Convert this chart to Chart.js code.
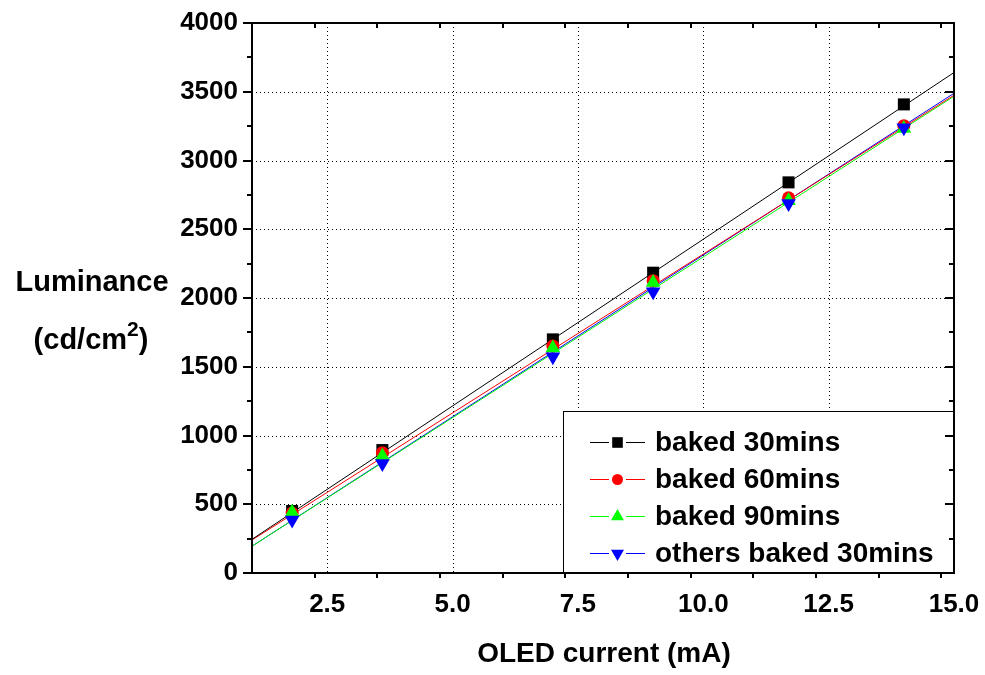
<!DOCTYPE html>
<html>
<head>
<meta charset="utf-8">
<script src="https://cdn.jsdelivr.net/npm/chart.js@4.4.0/dist/chart.umd.min.js"></script>
<style>
  html, body { margin: 0; padding: 0; background: #fff; }
</style>
</head>
<body>
<canvas id="grafica" width="985" height="675"></canvas>
<script>
// measured points: OLED current (mA)
const corriente = [1.8, 3.6, 7.0, 9.0, 11.7, 14.0];

// luminance of each sample
const baked30 = [451, 894, 1699, 2184, 2841, 3408];
const baked60 = [436, 875, 1651, 2126, 2729, 3253];
const baked90 = [442, 851, 1636, 2112, 2707, 3232];
const others30 = [385, 797, 1573, 2046, 2688, 3238];

// linear fits, read at both ends of the axis
const ajusteX = [1, 15];
const ajuste30 = [245, 3640];
const ajuste60 = [240, 3475];
const ajuste90 = [195, 3467];
const ajusteOthers = [195, 3489];

const nombres = ["baked 30mins", "baked 60mins", "baked 90mins", "others baked 30mins"];

// tick labels
const xTicks = [2.5, 5.0, 7.5, 10.0, 12.5, 15.0];
const yTicks = [0, 500, 1000, 1500, 2000, 2500, 3000, 3500, 4000];

const FONT = "'Liberation Sans', Arial, sans-serif";
const colores = ["#000000", "#ff0000", "#00ff00", "#0000ff"];
const estilos = [
  { pointStyle: "rect", rotation: 0, radius: 8.5 },
  { pointStyle: "circle", rotation: 0, radius: 6.5 },
  { pointStyle: "triangle", rotation: 0, radius: 8.5 },
  { pointStyle: "triangle", rotation: 180, radius: 8.5 }
];

function puntos(xs, ys) {
  return xs.map((x, i) => ({ x: x, y: ys[i] }));
}

const series = [baked30, baked60, baked90, others30];
const ajustes = [ajuste30, ajuste60, ajuste90, ajusteOthers];

const datasets = [];
// fit lines go under the markers
ajustes.forEach((a, i) => {
  datasets.push({
    label: nombres[i] + " fit",
    data: puntos(ajusteX, a),
    showLine: true,
    borderColor: colores[i],
    borderWidth: 1,
    pointRadius: 0,
    order: 10 + i
  });
});
// markers, blue on top
series.forEach((s, i) => {
  datasets.push({
    label: nombres[i],
    data: puntos(corriente, s),
    showLine: false,
    backgroundColor: colores[i],
    borderWidth: 0,
    pointStyle: estilos[i].pointStyle,
    rotation: estilos[i].rotation,
    pointRadius: estilos[i].radius,
    order: 4 - i
  });
});

function marcador(ctx, i, x, y) {
  ctx.fillStyle = colores[i];
  const opts = { pointStyle: estilos[i].pointStyle, rotation: estilos[i].rotation, radius: estilos[i].radius - 1, borderWidth: 0 };
  if (Chart.helpers && Chart.helpers.drawPoint) {
    Chart.helpers.drawPoint(ctx, opts, x, y);
  } else {
    ctx.beginPath();
    ctx.arc(x, y, opts.radius, 0, Math.PI * 2);
    ctx.fill();
  }
}

// grid, frame, ticks, legend and titles
const marcoPlugin = {
  id: "marco",
  beforeDatasetsDraw(chart) {
    const { ctx, chartArea: a, scales: { x, y } } = chart;
    ctx.save();
    ctx.strokeStyle = "#000";
    ctx.lineWidth = 1;
    ctx.setLineDash([1, 3]);
    ctx.beginPath();
    xTicks.forEach(v => {
      if (v > x.min && v < x.max) {
        const px = Math.round(x.getPixelForValue(v)) + 0.5;
        ctx.moveTo(px, a.top);
        ctx.lineTo(px, a.bottom);
      }
    });
    yTicks.forEach(v => {
      if (v > y.min && v < y.max) {
        const py = Math.round(y.getPixelForValue(v)) + 0.5;
        ctx.moveTo(a.left, py);
        ctx.lineTo(a.right, py);
      }
    });
    ctx.stroke();
    ctx.restore();
  },
  afterDatasetsDraw(chart) {
    const { ctx, chartArea: a, scales: { x, y } } = chart;
    ctx.save();

    // legend box
    const bx = 563, by = 411;
    ctx.fillStyle = "#fff";
    ctx.fillRect(bx, by, a.right - bx, a.bottom - by);
    ctx.strokeStyle = "#000";
    ctx.lineWidth = 1;
    ctx.strokeRect(bx + 0.5, by + 0.5, a.right - bx, a.bottom - by);
    nombres.forEach((n, i) => {
      const cy = 442 + i * 37;
      ctx.strokeStyle = colores[i];
      ctx.lineWidth = 1;
      ctx.beginPath();
      ctx.moveTo(590, cy + 0.5); ctx.lineTo(609, cy + 0.5);
      ctx.moveTo(626, cy + 0.5); ctx.lineTo(645, cy + 0.5);
      ctx.stroke();
      marcador(ctx, i, 617.5, cy + 0.5);
      ctx.fillStyle = "#000";
      ctx.font = "bold 28px " + FONT;
      ctx.textAlign = "left";
      ctx.textBaseline = "middle";
      ctx.fillText(n, 655, cy + 1);
    });

    // frame
    ctx.strokeStyle = "#000";
    ctx.lineWidth = 2;
    ctx.strokeRect(a.left, a.top, a.right - a.left, a.bottom - a.top);

    // ticks: major every label, minor halfway
    ctx.lineWidth = 2;
    ctx.beginPath();
    for (let v = x.min; v <= x.max + 1e-9; v += 1.25) {
      const px = Math.round(x.getPixelForValue(v));
      const mayor = xTicks.some(t => Math.abs(t - v) < 1e-6);
      const l = mayor ? 10 : 5;
      if (v > x.min + 1e-6) {
        ctx.moveTo(px, a.bottom); ctx.lineTo(px, a.bottom + l);
        ctx.moveTo(px, a.top); ctx.lineTo(px, a.top + l);
      }
    }
    for (let v = y.min; v <= y.max + 1e-9; v += 250) {
      const py = Math.round(y.getPixelForValue(v));
      const mayor = yTicks.some(t => Math.abs(t - v) < 1e-6);
      const l = mayor ? 9 : 5;
      ctx.moveTo(a.left, py); ctx.lineTo(a.left - l, py);
      ctx.moveTo(a.right, py); ctx.lineTo(a.right - l, py);
    }
    ctx.stroke();
    ctx.restore();
  },
  afterDraw(chart) {
    const ctx = chart.ctx;
    ctx.save();
    ctx.fillStyle = "#000";
    ctx.textBaseline = "middle";
    ctx.textAlign = "center";

    // x title
    ctx.font = "bold 28px " + FONT;
    ctx.fillText("OLED current (mA)", 604, 654);

    // y title, horizontal, two lines
    ctx.font = "bold 29px " + FONT;
    ctx.fillText("Luminance", 92, 283);
    ctx.textAlign = "left";
    const p1 = "(cd/cm", sup = "2", p2 = ")";
    const w1 = ctx.measureText(p1).width;
    const w3 = ctx.measureText(p2).width;
    ctx.font = "bold 21px " + FONT;
    const w2 = ctx.measureText(sup).width;
    let sx = 91 - (w1 + w2 + w3) / 2;
    ctx.font = "bold 29px " + FONT;
    ctx.fillText(p1, sx, 341);
    ctx.font = "bold 21px " + FONT;
    ctx.fillText(sup, sx + w1, 330);
    ctx.font = "bold 29px " + FONT;
    ctx.fillText(p2, sx + w1 + w2, 341);
    ctx.restore();
  }
};

const ctx = document.getElementById("grafica").getContext("2d");
const chart = new Chart(ctx, {
  type: "scatter",
  data: { datasets: datasets },
  options: {
    responsive: false,
    animation: false,
    layout: { padding: { top: 23, right: 31, left: 0, bottom: 0 } },
    plugins: {
      legend: { display: false },
      tooltip: { enabled: false }
    },
    scales: {
      x: {
        type: "linear",
        min: 1,
        max: 15,
        afterBuildTicks: s => { s.ticks = xTicks.map(v => ({ value: v })); },
        afterFit: s => { s.height = 102; s.paddingLeft = 0; s.paddingRight = 0; },
        grid: { display: false },
        border: { display: false },
        ticks: {
          color: "#000",
          padding: 8,
          maxRotation: 0,
          font: { family: FONT, size: 26, weight: "bold" },
          callback: v => Number(v).toFixed(1)
        }
      },
      y: {
        type: "linear",
        min: 0,
        max: 4000,
        afterBuildTicks: s => { s.ticks = yTicks.map(v => ({ value: v })); },
        afterFit: s => { s.width = 252; s.paddingTop = 0; s.paddingBottom = 0; },
        grid: { display: false },
        border: { display: false },
        ticks: {
          color: "#000",
          padding: 6,
          font: { family: FONT, size: 26, weight: "bold" },
          callback: v => String(v)
        }
      }
    }
  },
  plugins: [marcoPlugin]
});
</script>
</body>
</html>
